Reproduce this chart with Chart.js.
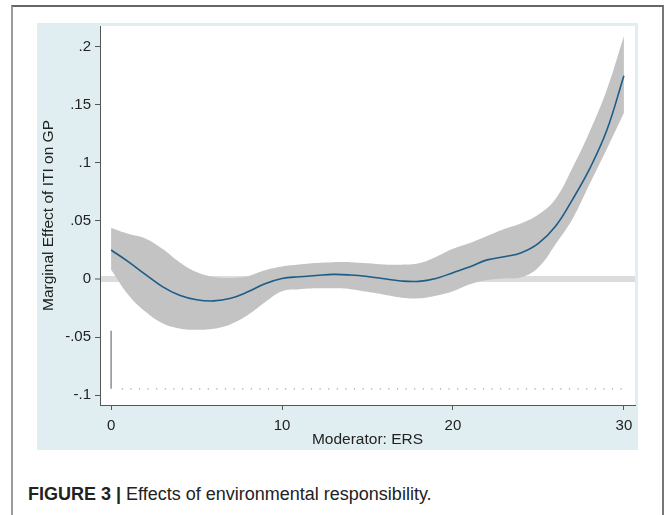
<!DOCTYPE html>
<html>
<head>
<meta charset="utf-8">
<script src="https://cdn.jsdelivr.net/npm/chart.js@4/dist/chart.umd.min.js"></script>
<style>
  html, body { margin: 0; padding: 0; background: #fff; }
  body { width: 665px; height: 515px; position: relative; overflow: hidden; font-family: "Liberation Sans", Arial, sans-serif; }
  #frame {
    position: absolute; left: 11px; top: 5px; width: 649px; height: 530px;
    border-top: 2px solid #666; border-left: 2px solid #9c9c9c; border-right: 2px solid #777;
  }
  #panel { position: absolute; left: 37px; top: 23px; width: 601px; height: 427px; background: #e1eef1; }
  #caption { position: absolute; left: 28px; top: 484px; font-size: 18px; color: #222; white-space: nowrap; }
  #caption b { font-weight: bold; }
</style>
</head>
<body>
<div id="frame"></div>
<div id="panel"><canvas id="chart" width="601" height="427"></canvas></div>
<div id="caption"><b>FIGURE 3 |</b> Effects of environmental responsibility.</div>
<script>
// moderator values (ERS) and marginal effect with 95% band
const xValues = [0, 1, 2, 3, 4, 5, 6, 7, 8, 9, 10, 11, 12, 13, 14, 15, 16, 17, 18, 19, 20, 21, 22, 23, 24, 25, 26, 27, 28, 29, 30];
const estimate = [0.025, 0.015, 0.004, -0.0065, -0.014, -0.0178, -0.0188, -0.0165, -0.011, -0.004, 0.0005, 0.002, 0.003, 0.004, 0.0035, 0.0022, 0.0003, -0.0017, -0.002, 0.0005, 0.0055, 0.0106, 0.0165, 0.0192, 0.0227, 0.0307, 0.0454, 0.0686, 0.095, 0.128, 0.175];
const upperCI = [0.044, 0.039, 0.035, 0.026, 0.0145, 0.006, 0.0018, 0.001, 0.0025, 0.0075, 0.0108, 0.0125, 0.0138, 0.0145, 0.0145, 0.0135, 0.0125, 0.0123, 0.0135, 0.019, 0.026, 0.031, 0.037, 0.043, 0.048, 0.0555, 0.069, 0.096, 0.127, 0.163, 0.209];
const lowerCI = [0.008, -0.0135, -0.028, -0.038, -0.0425, -0.0437, -0.0428, -0.0388, -0.031, -0.02, -0.0105, -0.0088, -0.008, -0.008, -0.0087, -0.011, -0.0135, -0.016, -0.0165, -0.0143, -0.0105, -0.0045, -0.0008, 0.0005, 0.0015, 0.010, 0.030, 0.052, 0.082, 0.112, 0.143];

// distribution marks of the moderator along the bottom
const spikeX = [0, 0];
const spikeY = [-0.0945, -0.0446];
const rugX = [0.62, 30.06];
const rugY = [-0.0946, -0.0946];

const xTickValues = [0, 10, 20, 30];
const yTickValues = [-0.1, -0.05, 0, 0.05, 0.1, 0.15, 0.2];
const yTickLabels = ['-.1', '-.05', '0', '.05', '.1', '.15', '.2'];

const pts = (xs, ys) => xs.map((x, i) => ({ x: x, y: ys[i] }));

const plotBg = {
  id: 'plotBg',
  beforeDraw(chart) {
    const a = chart.chartArea, c = chart.ctx;
    c.save();
    c.fillStyle = '#ffffff';
    c.fillRect(a.left, a.top, a.right - a.left, a.bottom - a.top);
    c.restore();
  }
};

const tickFont = { family: '"Liberation Sans", Arial, sans-serif', size: 15 };
const titleFont = { family: '"Liberation Sans", Arial, sans-serif', size: 15.5 };

new Chart(document.getElementById('chart'), {
  type: 'line',
  data: {
    datasets: [
      { data: pts(xValues, estimate), borderColor: '#1d5c87', borderWidth: 1.6, pointRadius: 0, tension: 0.4, fill: false },
      { data: pts(xValues, upperCI), borderWidth: 0, borderColor: 'rgba(0,0,0,0)', backgroundColor: '#c3c3c3', pointRadius: 0, tension: 0.4, fill: '+1' },
      { data: pts(xValues, lowerCI), borderWidth: 0, borderColor: 'rgba(0,0,0,0)', pointRadius: 0, tension: 0.4, fill: false },
      { data: pts(spikeX, spikeY), borderColor: '#8f8f8f', borderWidth: 1.5, pointRadius: 0, fill: false },
      { data: pts(rugX, rugY), borderColor: '#a0a0a0', borderWidth: 1.2, borderDash: [1.2, 7.4], pointRadius: 0, fill: false }
    ]
  },
  options: {
    responsive: false,
    animation: false,
    devicePixelRatio: 1,
    layout: { padding: { top: 3, right: 3, left: 0, bottom: 0 } },
    plugins: { legend: { display: false }, tooltip: { enabled: false } },
    scales: {
      x: {
        type: 'linear',
        min: -0.65,
        max: 30.65,
        afterFit(s) { s.height = 45; s.paddingLeft = 0; s.paddingRight = 0; },
        afterBuildTicks(s) { s.ticks = xTickValues.map(v => ({ value: v })); },
        ticks: { includeBounds: false, color: '#222', font: tickFont, padding: 7, maxRotation: 0 },
        grid: { drawOnChartArea: false, drawTicks: true, tickLength: 5, tickColor: '#555', tickWidth: 1 },
        border: { color: '#555', width: 1 },
        title: { display: true, text: 'Moderator: ERS', color: '#222', font: titleFont, padding: { top: 0, bottom: 1 } }
      },
      y: {
        type: 'linear',
        min: -0.1084,
        max: 0.2178,
        afterFit(s) { s.width = 63; s.paddingTop = 0; s.paddingBottom = 0; },
        afterBuildTicks(s) { s.ticks = yTickValues.map(v => ({ value: v })); },
        ticks: {
          includeBounds: false, color: '#222', font: tickFont, padding: 4,
          callback: (v) => { const i = yTickValues.indexOf(v); return i >= 0 ? yTickLabels[i] : ''; }
        },
        grid: {
          drawOnChartArea: true,
          color: (ctx) => (ctx.tick && ctx.tick.value === 0 ? '#dcdcdc' : 'rgba(0,0,0,0)'),
          lineWidth: (ctx) => (ctx.tick && ctx.tick.value === 0 ? 6 : 1),
          drawTicks: true, tickLength: 5, tickColor: '#555', tickWidth: 1
        },
        border: { color: '#555', width: 1 },
        title: { display: true, text: 'Marginal Effect of ITI on GP', color: '#222', font: titleFont, padding: { top: 2, bottom: 0 } }
      }
    }
  },
  plugins: [plotBg]
});
</script>
</body>
</html>
